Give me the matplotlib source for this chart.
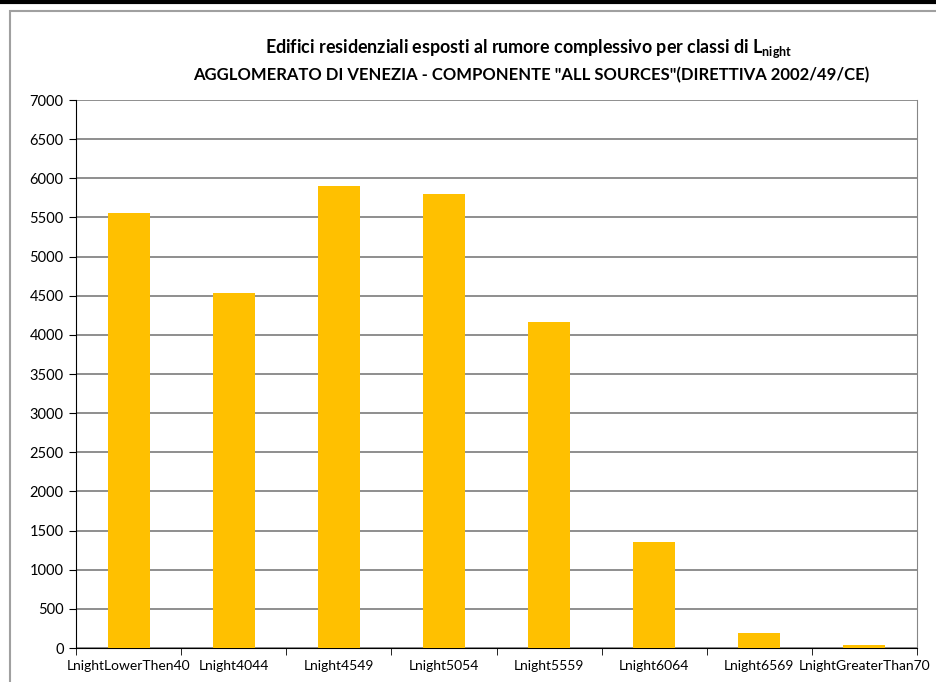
import matplotlib.pyplot as plt
from matplotlib.patches import Rectangle
from matplotlib.lines import Line2D

plt.rcParams['font.family'] = ['Lato', 'DejaVu Sans']
plt.rcParams['mathtext.default'] = 'regular'

classi = ['LnightLowerThen40', 'Lnight4044', 'Lnight4549', 'Lnight5054',
          'Lnight5559', 'Lnight6064', 'Lnight6569', 'LnightGreaterThan70']
edifici = [5560, 4540, 5900, 5800, 4165, 1360, 195, 40]

fig = plt.figure(figsize=(9.36, 6.82), dpi=100)

# cornice esterna e riga nera in alto
fig.add_artist(Rectangle((10 / 936, -0.05), 1.0, 1 - 11 / 682 + 0.05,
                         transform=fig.transFigure, fill=False,
                         edgecolor='#a0a0a0', linewidth=1.5))
fig.add_artist(Line2D([0, 1], [1 - 2 / 682, 1 - 2 / 682], transform=fig.transFigure,
                      color='black', linewidth=3))

ax = fig.add_axes([76 / 936, 1 - 648 / 682, (917 - 76) / 936, (648 - 100) / 682])

x = range(len(classi))
ax.bar(x, edifici, width=0.4, color='#ffc000', zorder=3)

ax.set_xlim(-0.5, len(classi) - 0.5)
ax.set_ylim(0, 7000)
ax.set_yticks(range(0, 7001, 500))
ax.grid(axis='y', color='#868686', linewidth=1.3, zorder=0)

ax.set_xticks(list(x))
ax.set_xticklabels(classi, fontsize=10)
ax.tick_params(axis='x', length=0, pad=9)
ax.set_xticks([i + 0.5 for i in range(-1, len(classi))], minor=True)
ax.tick_params(axis='x', which='minor', length=5, direction='out', color='black')
ax.tick_params(axis='y', length=5, direction='out', labelsize=10.5, pad=4)

ax.spines['top'].set_visible(False)
ax.spines['right'].set_color('#868686')
ax.spines['left'].set_color('black')
ax.spines['bottom'].set_color('black')

fig.text(529 / 936, 1 - 49 / 682,
         'Edifici residenziali esposti al rumore complessivo per classi di L$_{night}$',
         ha='center', va='center', fontsize=12.9, fontweight='bold')
fig.text(531 / 936, 1 - 75 / 682,
         'AGGLOMERATO DI VENEZIA - COMPONENTE "ALL SOURCES"(DIRETTIVA 2002/49/CE)',
         ha='center', va='center', fontsize=12, fontweight='bold')

fig.savefig('out.png', dpi=100)
